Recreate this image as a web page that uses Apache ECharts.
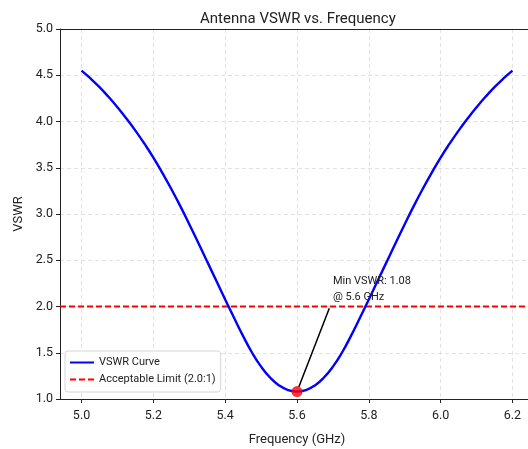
<!DOCTYPE html>
<html>
<head>
<meta charset="utf-8">
<script src="https://cdn.jsdelivr.net/npm/echarts@6/dist/echarts.min.js"></script>
<style>
  body { margin: 0; background: #fff; }
  #main { width: 528px; height: 449px; }
</style>
</head>
<body>
<div id="main"></div>
<script>
// frequency points (GHz)
var freq = [
  5.000, 5.025, 5.050, 5.075, 5.100, 5.125, 5.150, 5.175, 5.200, 5.225,
  5.250, 5.275, 5.300, 5.325, 5.350, 5.375, 5.400, 5.425, 5.450, 5.475,
  5.500, 5.525, 5.550, 5.575, 5.600, 5.625, 5.650, 5.675, 5.700, 5.725,
  5.750, 5.775, 5.800, 5.825, 5.850, 5.875, 5.900, 5.925, 5.950, 5.975,
  6.000, 6.025, 6.050, 6.075, 6.100, 6.125, 6.150, 6.175, 6.200
];
// VSWR
var vswr = [
  4.550, 4.465, 4.371, 4.267, 4.154, 4.032, 3.901, 3.760, 3.610, 3.445,
  3.270, 3.085, 2.890, 2.690, 2.485, 2.280, 2.075, 1.875, 1.680, 1.500,
  1.350, 1.232, 1.147, 1.097, 1.080, 1.097, 1.147, 1.232, 1.350, 1.500,
  1.680, 1.875, 2.075, 2.280, 2.485, 2.690, 2.890, 3.085, 3.270, 3.445,
  3.610, 3.760, 3.901, 4.032, 4.154, 4.267, 4.371, 4.465, 4.550
];
var limitX = [4.94, 6.26];
var limitY = [2.0, 2.0];
var minFreq = 5.6;
var minVswr = 1.08;
var xTicks = [5.0, 5.2, 5.4, 5.6, 5.8, 6.0, 6.2];

var curveData = freq.map(function (f, i) { return [f, vswr[i]]; });
var limitData = limitX.map(function (f, i) { return [f, limitY[i]]; });

var font = "Roboto, 'Noto Sans', sans-serif";
var gridLine = { show: true, lineStyle: { color: '#dcdcdc', type: [4, 3], width: 0.8 } };

var option = {
  animation: false,
  textStyle: { fontFamily: font },
  title: {
    text: 'Antenna VSWR vs. Frequency',
    left: 195,
    top: 7,
    textStyle: { fontFamily: font, fontSize: 15, fontWeight: 'normal', color: '#222' }
  },
  grid: { left: 60, right: -6, top: 29, bottom: 50, outerBoundsMode: 'none' },
  legend: {
    orient: 'vertical',
    left: 65,
    top: 351,
    padding: [6, 5, 7, 4],
    itemWidth: 24,
    itemHeight: 12,
    itemGap: 6,
    backgroundColor: '#fff',
    borderColor: '#d6d6d6',
    borderWidth: 1,
    borderRadius: 3,
    itemStyle: { opacity: 0 },
    textStyle: { fontFamily: font, fontSize: 11, color: '#222' },
    data: ['VSWR Curve', 'Acceptable Limit (2.0:1)']
  },
  xAxis: [{
    type: 'value',
    min: 4.94,
    max: 6.26,
    name: 'Frequency (GHz)',
    nameLocation: 'middle',
    nameGap: 34,
    nameTextStyle: { fontFamily: font, fontSize: 13, color: '#222' },
    axisLine: { show: true, lineStyle: { color: '#222', width: 1 } },
    axisTick: { show: true, length: 4, lineStyle: { color: '#222' }, customValues: xTicks },
    axisLabel: {
      fontFamily: font, fontSize: 12.5, color: '#222', margin: 10,
      customValues: xTicks,
      formatter: function (v) { return v.toFixed(1); }
    },
    splitLine: gridLine
  }, {
    type: 'value',
    position: 'top',
    min: 4.94,
    max: 6.26,
    axisLine: { show: true, lineStyle: { color: '#222', width: 1 } },
    axisTick: { show: false },
    axisLabel: { show: false },
    splitLine: { show: false }
  }],
  yAxis: {
    type: 'value',
    min: 1,
    max: 5,
    interval: 0.5,
    name: 'VSWR',
    nameLocation: 'middle',
    nameGap: 31,
    nameTextStyle: { fontFamily: font, fontSize: 13, color: '#222' },
    axisLine: { show: true, lineStyle: { color: '#222', width: 1 } },
    axisTick: { show: true, length: 4, lineStyle: { color: '#222' } },
    axisLabel: {
      fontFamily: font, fontSize: 12.5, color: '#222', margin: 7,
      formatter: function (v) { return v.toFixed(1); }
    },
    splitLine: gridLine
  },
  series: [
    {
      name: 'VSWR Curve',
      type: 'line',
      data: curveData,
      smooth: 0.5,
      symbol: 'none',
      color: '#0000ff',
      lineStyle: { color: '#0000ff', width: 2.4 },
      z: 3,
      markLine: {
        silent: true,
        symbol: ['none', 'arrow'],
        symbolSize: [0, 11],
        label: { show: false },
        lineStyle: { color: '#000', width: 1.5, type: 'solid' },
        data: [[{ coord: [5.69, 1.98] }, { coord: [5.605, 1.13] }]]
      }
    },
    {
      name: 'Acceptable Limit (2.0:1)',
      type: 'line',
      data: limitData,
      symbol: 'none',
      color: '#ff0000',
      lineStyle: { color: '#ff0000', width: 1.8, type: [6, 3] },
      z: 2
    },
    {
      name: 'min',
      type: 'scatter',
      data: [[minFreq, minVswr]],
      symbolSize: 11,
      itemStyle: { color: '#ff0000' },
      z: 5,
      markPoint: {
        silent: true,
        symbol: 'circle',
        symbolSize: 0,
        data: [{ coord: [5.70, 2.19] }],
        label: {
          show: true,
          position: 'inside',
          align: 'left',
          verticalAlign: 'middle',
          fontFamily: font,
          fontSize: 11,
          lineHeight: 16,
          color: '#222',
          formatter: 'Min VSWR: ' + minVswr.toFixed(2) + '\n@ ' + minFreq + ' GHz'
        }
      }
    }
  ]
};

var myChart = echarts.init(document.getElementById('main'));
myChart.setOption(option);
</script>
</body>
</html>
